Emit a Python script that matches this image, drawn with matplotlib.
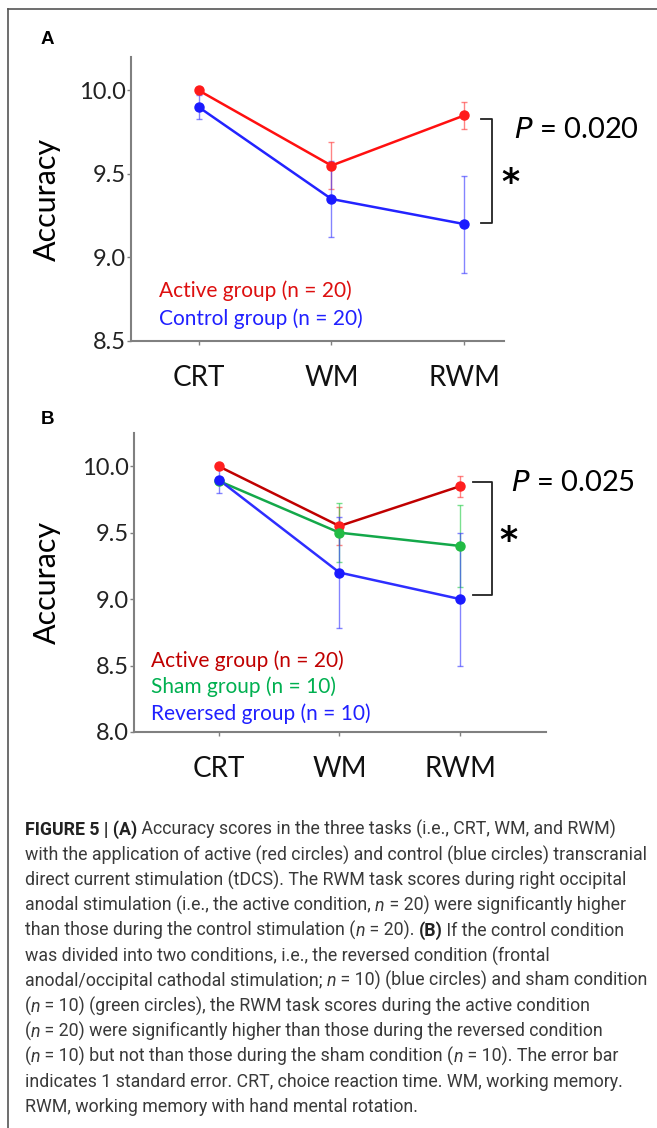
import matplotlib
matplotlib.use('Agg')
import matplotlib.pyplot as plt
from matplotlib.lines import Line2D

# ---- data ----
tasks = ['CRT', 'WM', 'RWM']

# panel A
a_active = [10.0, 9.55, 9.85]
a_active_se = [0.0, 0.14, 0.08]
a_control = [9.9, 9.35, 9.2]
a_control_se = [0.07, 0.23, 0.29]

# panel B
b_active = [10.0, 9.55, 9.85]
b_active_se = [0.0, 0.14, 0.08]
b_sham = [9.89, 9.5, 9.4]
b_sham_se = [0.0, 0.22, 0.31]
b_reversed = [9.9, 9.2, 9.0]
b_reversed_se = [0.1, 0.42, 0.5]

a_ticks = [8.5, 9.0, 9.5, 10.0]
b_ticks = [8.0, 8.5, 9.0, 9.5, 10.0]

W, H = 657, 1128
CHART_FONT = ['Lato', 'DejaVu Sans']
plt.rcParams['font.family'] = CHART_FONT

fig = plt.figure(figsize=(W / 100, H / 100), dpi=100)


def fx(px):
    return px / W


def fy(py):
    return 1 - py / H


# outer frame (left + top)
fig.add_artist(Line2D([fx(8), fx(8)], [fy(9), 0], color='#555555', lw=1.2))
fig.add_artist(Line2D([fx(8), 1], [fy(9), fy(9)], color='#555555', lw=1.2))


def style_axes(ax, ticks):
    for s in ['top', 'right']:
        ax.spines[s].set_visible(False)
    for s in ['left', 'bottom']:
        ax.spines[s].set_color('#808080')
        ax.spines[s].set_linewidth(1.5)
    ax.set_xticks(range(len(tasks)))
    ax.set_xticklabels(tasks, fontsize=20, color='#111111')
    ax.set_yticks(ticks)
    ax.set_yticklabels([f'{t:.1f}' for t in ticks], fontsize=17, color='#222222')
    ax.tick_params(axis='y', length=3, width=1, color='#808080', pad=1)
    ax.tick_params(axis='x', length=3, width=1, color='#808080', pad=14)


def series(ax, y, se, line_c, mark_c, err_c):
    ax.errorbar(range(len(y)), y, yerr=se, fmt='none', ecolor=err_c,
                elinewidth=1.0, capsize=2.5, capthick=1.0, alpha=0.6, zorder=2)
    ax.plot(range(len(y)), y, '-', color=line_c, lw=1.8, zorder=3)
    ax.plot(range(len(y)), y, 'o', color=mark_c, ms=6.5, zorder=4)


def star(ax, x, y):
    ax.text(x, y, '*', fontsize=25, ha='center', va='center', fontweight='bold',
            family=['DejaVu Sans'], clip_on=False)


# ---- Panel A ----
axA = fig.add_axes([fx(131), fy(341), fx(504) - fx(131), fy(57) - fy(341)])
axA.set_xlim(-0.51, 2.30)
axA.set_ylim(8.5, 10.2)
style_axes(axA, a_ticks)
series(axA, a_active, a_active_se, '#ff1010', '#ff1a1a', '#ff3333')
series(axA, a_control, a_control_se, '#2323ff', '#1a1aff', '#3333ff')
axA.text(-0.30, 8.80, 'Active group (n = 20)', color='#dd0f0f', fontsize=15,
         va='center', ha='left')
axA.text(-0.30, 8.635, 'Control group (n = 20)', color='#2020ff', fontsize=15,
         va='center', ha='left')
axA.plot([2.125, 2.21, 2.21, 2.125], [9.83, 9.83, 9.205, 9.205], color='#222222',
         lw=1.3, clip_on=False)
star(axA, 2.345, 9.445)
axA.text(2.375, 9.765, '$\\it{P}$ = 0.020', fontsize=21, ha='left', va='center',
         clip_on=False)
axA.text(-0.225, 0.5, 'Accuracy', transform=axA.transAxes, rotation=90,
         fontsize=22, ha='center', va='center')
fig.text(fx(47), fy(39), 'A', fontsize=13.5, fontweight='bold', ha='center',
         va='center', family=['Liberation Sans', 'DejaVu Sans'])

# ---- Panel B ----
axB = fig.add_axes([fx(134), fy(732), fx(546) - fx(134), fy(433) - fy(732)])
axB.set_xlim(-0.70, 2.71)
axB.set_ylim(8.0, 10.25)
style_axes(axB, b_ticks)
series(axB, b_active, b_active_se, '#c00000', '#ff1f1f', '#ff3333')
series(axB, b_sham, b_sham_se, '#14a84a', '#22bb44', '#22cc44')
series(axB, b_reversed, b_reversed_se, '#2e2eff', '#1a1aff', '#3333ff')
axB.text(-0.556, 8.54, 'Active group (n = 20)', color='#c00000', fontsize=15,
         va='center', ha='left')
axB.text(-0.556, 8.34, 'Sham group (n = 10)', color='#00b050', fontsize=15,
         va='center', ha='left')
axB.text(-0.556, 8.14, 'Reversed group (n = 10)', color='#2020ff', fontsize=15,
         va='center', ha='left')
axB.plot([2.108, 2.266, 2.266, 2.108], [9.88, 9.88, 9.03, 9.03], color='#222222',
         lw=1.3, clip_on=False)
star(axB, 2.40, 9.44)
axB.text(2.42, 9.87, '$\\it{P}$ = 0.025', fontsize=21, ha='left', va='center',
         clip_on=False)
axB.text(-0.211, 0.5, 'Accuracy', transform=axB.transAxes, rotation=90,
         fontsize=22, ha='center', va='center')
fig.text(fx(47), fy(419), 'B', fontsize=13.5, fontweight='bold', ha='center',
         va='center', family=['Liberation Sans', 'DejaVu Sans'])

# ---- caption ----
N = 'n'
cap_lines = [
    [('FIGURE 5 | (A)', 'b'), (' Accuracy scores in the three tasks (i.e., CRT, WM, and RWM)', '')],
    [('with the application of active (red circles) and control (blue circles) transcranial', '')],
    [('direct current stimulation (tDCS). The RWM task scores during right occipital', '')],
    [('anodal stimulation (i.e., the active condition, ', ''), (N, 'i'),
     (' = 20) were significantly higher', '')],
    [('than those during the control stimulation (', ''), (N, 'i'), (' = 20). ', ''),
     ('(B)', 'b'), (' If the control condition', '')],
    [('was divided into two conditions, i.e., the reversed condition (frontal', '')],
    [('anodal/occipital cathodal stimulation; ', ''), (N, 'i'),
     (' = 10) (blue circles) and sham condition', '')],
    [('(', ''), (N, 'i'), (' = 10) (green circles), the RWM task scores during the active condition', '')],
    [('(', ''), (N, 'i'), (' = 20) were significantly higher than those during the reversed condition', '')],
    [('(', ''), (N, 'i'), (' = 10) but not than those during the sham condition (', ''), (N, 'i'),
     (' = 10). The error bar', '')],
    [('indicates 1 standard error. CRT, choice reaction time. WM, working memory.', '')],
    [('RWM, working memory with hand mental rotation.', '')],
]

cap_kw = dict(fontsize=12.75, color='#3a3a3a', family=['Roboto', 'DejaVu Sans'])
y0 = 830
for i, parts in enumerate(cap_lines):
    last = None
    for s, st in parts:
        kw = dict(cap_kw)
        if st == 'b':
            kw['fontweight'] = 'bold'
            kw['color'] = '#222222'
        if st == 'i':
            kw['fontstyle'] = 'italic'
        if last is None:
            last = fig.text(fx(25), fy(y0 + 25.2 * i), s, ha='left', va='center', **kw)
        else:
            # chain the next piece right after the previous one
            last = fig.add_artist(plt.Annotation(s, xy=(1, 0), xycoords=last,
                                                 va='bottom', ha='left', **kw))

fig.savefig('out.png', dpi=100, facecolor='white')
